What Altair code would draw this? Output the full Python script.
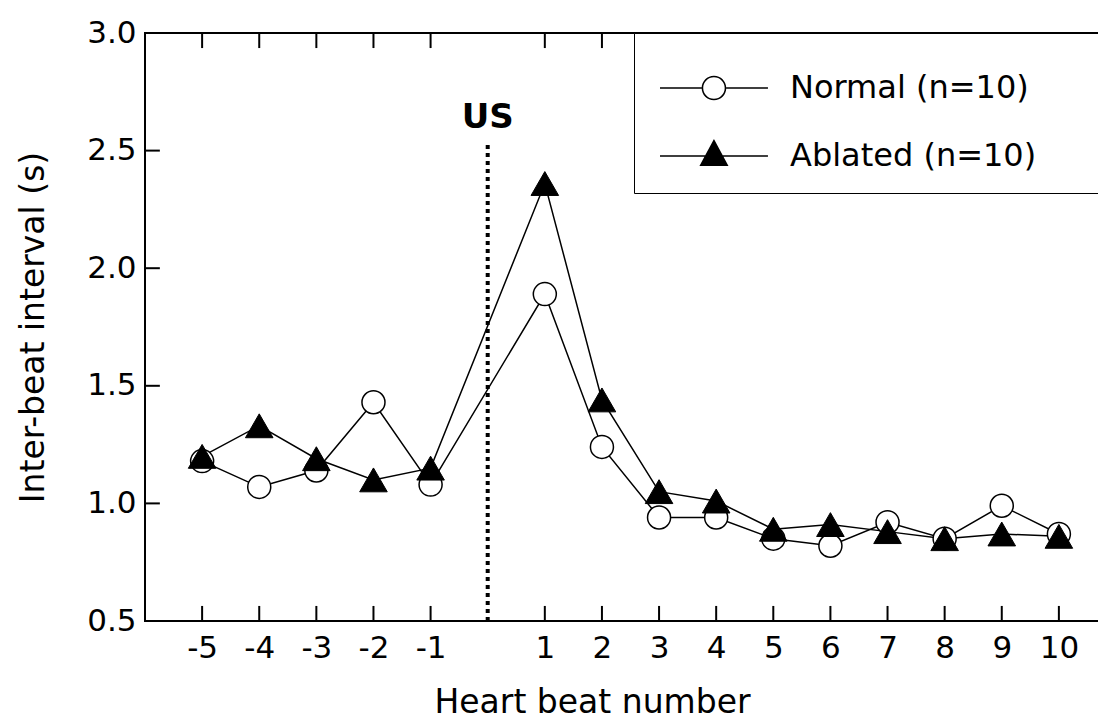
import altair as alt
import pandas as pd

# ---------------- data ----------------
beats = [-5, -4, -3, -2, -1, 1, 2, 3, 4, 5, 6, 7, 8, 9, 10]
normal = [1.18, 1.07, 1.14, 1.43, 1.08, 1.89, 1.24, 0.94, 0.94, 0.85, 0.82, 0.92, 0.85, 0.99, 0.87]
ablated = [1.20, 1.33, 1.19, 1.10, 1.15, 2.36, 1.44, 1.05, 1.01, 0.89, 0.91, 0.88, 0.85, 0.87, 0.86]
series_names = ["Normal (n=10)", "Ablated (n=10)"]
x_ticks = [-5, -4, -3, -2, -1, 1, 2, 3, 4, 5, 6, 7, 8, 9, 10]
y_ticks = [0.5, 1.0, 1.5, 2.0, 2.5, 3.0]
us_label = ["US"]
us_beat = [0]
us_label_y = [2.64]
us_line_top = [2.54]
x_title = "Heart beat number"
y_title = "Inter-beat interval (s)"

X_DOMAIN = [-6, 11]
Y_DOMAIN = [0.5, 3.0]
FONT = "DejaVu Sans"
TICK_Y = 0.064   # inward tick length in y units
TICK_X = 0.26    # inward tick length in x units

df = pd.DataFrame({
    "beat": beats * 2,
    "ibi": normal + ablated,
    "series": [series_names[0]] * len(beats) + [series_names[1]] * len(beats),
})
xt = pd.DataFrame({"tx": x_ticks})
xt["b0"] = Y_DOMAIN[0]
xt["b1"] = Y_DOMAIN[0] + TICK_Y
xt["t0"] = Y_DOMAIN[1]
xt["t1"] = Y_DOMAIN[1] - TICK_Y
yt = pd.DataFrame({"ty": y_ticks})
yt["l0"] = X_DOMAIN[0]
yt["l1"] = X_DOMAIN[0] + TICK_X
yt["r0"] = X_DOMAIN[1]
yt["r1"] = X_DOMAIN[1] - TICK_X
us = pd.DataFrame({"x": us_beat, "y": us_label_y, "ytop": us_line_top, "label": us_label})
us["ybot"] = Y_DOMAIN[0]

# ---------------- scales / axes ----------------
XS = alt.Scale(domain=X_DOMAIN, nice=False, zero=False)
YS = alt.Scale(domain=Y_DOMAIN, nice=False, zero=False)

X_AX = alt.Axis(values=x_ticks, ticks=False, domain=False, grid=False,
                labelExpr="toString(datum.value)",
                labelFont=FONT, labelFontSize=31, labelColor="black", labelPadding=12,
                labelFlush=False, labelOverlap=False,
                title=x_title, titleFont=FONT, titleFontSize=33, titleFontWeight="normal",
                titleColor="black", titleX=447, titleY=91, titleBaseline="alphabetic",
                titleAlign="center")
Y_AX = alt.Axis(values=y_ticks, format=".1f", ticks=False, domain=False, grid=False,
                labelFont=FONT, labelFontSize=31, labelColor="black", labelPadding=9,
                labelFlush=False, labelOverlap=False,
                title=y_title, titleFont=FONT, titleFontSize=33, titleFontWeight="normal",
                titleColor="black", titleAngle=270, titleX=-102, titleY=294,
                titleBaseline="alphabetic", titleAlign="center")


def X(field):
    return alt.X(field, type="quantitative", scale=XS, axis=X_AX)


def Y(field):
    return alt.Y(field, type="quantitative", scale=YS, axis=Y_AX)


rule_style = dict(color="black", strokeWidth=2)

bottom_ticks = alt.Chart(xt).mark_rule(**rule_style).encode(
    x=X("tx"), y=Y("b0"), y2="b1")
top_ticks = alt.Chart(xt).mark_rule(**rule_style).encode(
    x=X("tx"), y=Y("t0"), y2="t1")
left_ticks = alt.Chart(yt).mark_rule(**rule_style).encode(
    y=Y("ty"), x=X("l0"), x2="l1")
right_ticks = alt.Chart(yt).mark_rule(**rule_style).encode(
    y=Y("ty"), x=X("r0"), x2="r1")

us_rule = alt.Chart(us).mark_rule(color="black", strokeWidth=4, strokeDash=[4, 4]).encode(
    x=X("x"), y=Y("ybot"), y2="ytop")
us_text = alt.Chart(us).mark_text(font=FONT, fontSize=34, fontWeight="bold", color="black",
                                  baseline="middle", align="center").encode(
    x=X("x"), y=Y("y"), text="label:N")

lines = alt.Chart(df).mark_line(color="black", strokeWidth=1.5).encode(
    x=X("beat"), y=Y("ibi"), detail="series:N")

circles = alt.Chart(df).transform_filter(
    alt.datum.series == series_names[0]).mark_point(
    shape="circle", filled=True, fill="white", stroke="black", strokeWidth=1.5,
    size=530, opacity=1).encode(x=X("beat"), y=Y("ibi"))

triangles = alt.Chart(df).transform_filter(
    alt.datum.series == series_names[1]).mark_point(
    shape="triangle-up", filled=True, fill="black", stroke="black", strokeWidth=1,
    size=760, opacity=1).encode(x=X("beat"), y=Y("ibi"))

# legend symbols (line segment + marker) as filled custom paths; the tiny far-right
# sub-path only widens the legend frame so that it runs off the right edge as in the figure
far = "M40,0h0.001v0.001h-0.001Z"
circle_path = ("M-0.92,-0.07H2.555V0.07H-0.92Z"
               "M4.605,-0.07H8.08V0.07H4.605Z"
               "M4.605,0A1.025,1.025,0,1,1,2.555,0A1.025,1.025,0,1,1,4.605,0Z"
               "M4.475,0A0.895,0.895,0,1,0,2.685,0A0.895,0.895,0,1,0,4.475,0Z" + far)
tri_path = ("M-0.92,-0.07H8.08V0.07H-0.92Z"
            "M3.58,-1.42L4.79,0.83L2.37,0.83Z" + far)

LEG = alt.Legend(orient="none", legendX=489, legendY=0, padding=21,
                 title=" ", titleFontSize=10, titlePadding=8,
                 labelFont=FONT, labelFontSize=32, labelColor="black", labelOffset=103,
                 labelLimit=1000,
                 rowPadding=34, symbolSize=576, symbolStrokeWidth=0, symbolOpacity=1,
                 symbolFillColor="black",
                 strokeColor="black", fillColor="white")

legend_layer = alt.Chart(df).mark_point(filled=True, fill="black", opacity=0,
                                        strokeWidth=0, size=576).encode(
    x=X("beat"), y=Y("ibi"),
    shape=alt.Shape("series:N", scale=alt.Scale(domain=series_names,
                                                range=[circle_path, tri_path]), legend=LEG),
)

chart = alt.layer(
    bottom_ticks, top_ticks, left_ticks, right_ticks,
    us_rule, lines, circles, triangles, us_text, legend_layer
).properties(
    width=971, height=588,
    autosize=alt.AutoSizeParams(type="none"),
    padding={"left": 137, "top": 25, "right": -18, "bottom": 98},
    background="white",
).configure_view(stroke="black", strokeWidth=2, fill=None)

chart.save("out.html", embed_options={"renderer": "svg", "actions": False})
